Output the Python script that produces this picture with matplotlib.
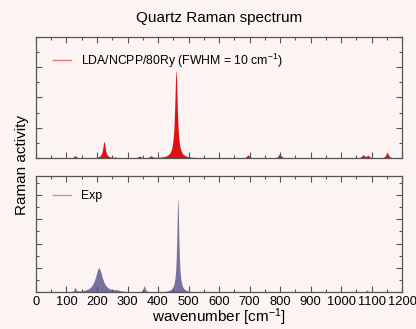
"""Quartz Raman spectrum: calculated (LDA/NCPP/80Ry) vs experiment."""

import numpy as np
import matplotlib
matplotlib.use("Agg")
import matplotlib.pyplot as plt
from matplotlib.ticker import MultipleLocator

# calculated Raman lines (cm-1) and heights, broadened with FWHM = 10 cm-1
calc_pos = [128, 223, 259, 339, 377, 459, 695, 799, 1072, 1088, 1151]
calc_amp = [0.07, 0.54, 0.02, 0.06, 0.06, 2.88, 0.10, 0.14, 0.10, 0.08, 0.18]
calc_fwhm = 10.0

# experimental bands (cm-1), heights and widths
exp_pos = [128, 206, 265, 355, 465, 795, 1085]
exp_amp = [0.17, 1.00, 0.05, 0.26, 3.83, 0.02, 0.10]
exp_fwhm = [6, 28, 25, 7, 8, 10, 7]

x_ticks = [0, 100, 200, 300, 400, 500, 600, 700, 800, 900, 1000, 1100, 1200]

BG = "#fcf3f3"
RED = "#dd1111"
PURPLE = "#77719f"


def lorentz_sum(x, positions, amps, widths):
    y = np.zeros_like(x)
    for p, a, w in zip(positions, amps, widths):
        g = w / 2.0
        y += a * g**2 / ((x - p) ** 2 + g**2)
    return y


plt.rcParams["font.family"] = ["Liberation Sans", "DejaVu Sans"]
plt.rcParams["mathtext.fontset"] = "custom"
plt.rcParams["mathtext.rm"] = "Liberation Sans"
plt.rcParams["mathtext.it"] = "Liberation Sans"
plt.rcParams["mathtext.default"] = "rm"

wn = np.linspace(0, 1200, 4801)
calc = lorentz_sum(wn, calc_pos, calc_amp, [calc_fwhm] * len(calc_pos))
expt = lorentz_sum(wn, exp_pos, exp_amp, exp_fwhm)

fig = plt.figure(figsize=(4.16, 3.29), dpi=100, facecolor=BG)
ax1 = fig.add_axes([0.0865, 0.5198, 0.880, 0.3678])
ax2 = fig.add_axes([0.0865, 0.1116, 0.880, 0.3535])

ax1.fill_between(wn, 0, calc, color=RED, lw=0)
ax1.plot([], [], color="#f07070", lw=1, label="LDA/NCPP/80Ry (FWHM = 10 cm$^{\\mathregular{-1}}$)")
ax1.set_ylim(0, 4)

ax2.fill_between(wn, 0, expt, color=PURPLE, lw=0)
ax2.plot([], [], color="#a49fc4", lw=1, label="Exp")
ax2.set_ylim(0, 4.78)

for ax in (ax1, ax2):
    ax.set_facecolor(BG)
    ax.set_xlim(0, 1200)
    ax.xaxis.set_major_locator(MultipleLocator(100))
    ax.xaxis.set_minor_locator(MultipleLocator(50))
    ax.yaxis.set_major_locator(MultipleLocator(1))
    ax.yaxis.set_minor_locator(MultipleLocator(0.5))
    ax.tick_params(which="both", direction="in", top=True, right=True,
                   color="#555555", width=0.8)
    ax.tick_params(which="major", length=4)
    ax.tick_params(which="minor", length=2.5)
    ax.tick_params(axis="y", labelleft=False)
    for s in ax.spines.values():
        s.set_color("#555555")
        s.set_linewidth(0.9)
    ax.legend(loc="upper left", bbox_to_anchor=(0.03, 0.93), frameon=False,
              fontsize=8.8, handlelength=1.5, handletextpad=0.8, borderpad=0)

ax1.tick_params(axis="x", labelbottom=False)
ax2.set_xticks(x_ticks)
ax2.set_xticklabels([str(t) for t in x_ticks], fontsize=9.3)
ax2.tick_params(axis="x", pad=2.5)
ax2.set_xlabel("wavenumber [cm$^{\\mathregular{-1}}$]", fontsize=11, labelpad=-1)

fig.text(0.527, 0.945, "Quartz Raman spectrum", ha="center", va="center", fontsize=11)
fig.text(0.053, 0.497, "Raman activity", ha="center", va="center",
         rotation=90, fontsize=11)

fig.savefig("out.png", dpi=100, facecolor=BG)
